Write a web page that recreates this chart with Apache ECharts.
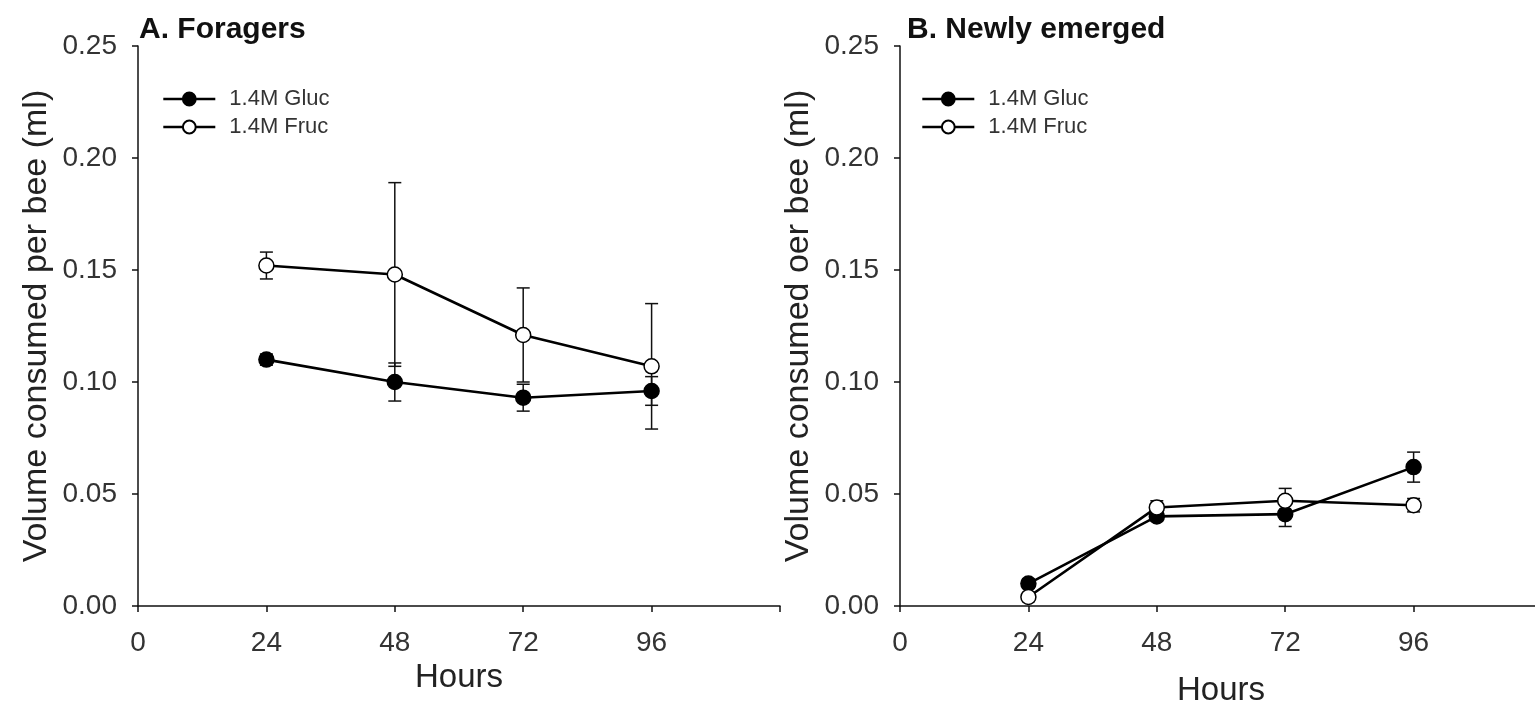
<!DOCTYPE html>
<html>
<head>
<meta charset="utf-8">
<script src="https://cdn.jsdelivr.net/npm/echarts@6/dist/echarts.min.js"></script>
<style>
  html, body { margin: 0; padding: 0; background: #fff; }
  #chart { width: 1535px; height: 703px; }
</style>
</head>
<body>
<div id="chart"></div>
<script>
// sampling times (h)
var hours = [24, 48, 72, 96];
var xTicks = [0, 24, 48, 72, 96];

// A. Foragers, mean and SE
var forGluc = [0.110, 0.100, 0.093, 0.096];
var forGlucErr = [0.0025, 0.0085, 0.006, 0.0064];
var forFruc = [0.152, 0.148, 0.121, 0.107];
var forFrucErr = [0.006, 0.041, 0.021, 0.028];

// B. Newly emerged, mean and SE
var newGluc = [0.010, 0.040, 0.041, 0.062];
var newGlucErr = [0.002, 0.002, 0.0055, 0.0067];
var newFruc = [0.004, 0.044, 0.047, 0.045];
var newFrucErr = [0.002, 0.003, 0.0055, 0.003];

var FONT = '"Liberation Sans", Arial, sans-serif';
var INK = '#111';

function pairs(ys) {
    return hours.map(function (h, i) { return [h, ys[i]]; });
}
function triples(ys, es) {
    return hours.map(function (h, i) { return [h, ys[i], es[i]]; });
}

// vertical whisker with caps
function errorBars(params, api) {
    var x = api.value(0), y = api.value(1), e = api.value(2);
    var hi = api.coord([x, y + e]);
    var lo = api.coord([x, y - e]);
    var w = 6.5;
    var st = { stroke: INK, lineWidth: 1.5 };
    return {
        type: 'group',
        children: [
            { type: 'line', shape: { x1: hi[0], y1: hi[1], x2: lo[0], y2: lo[1] }, style: st },
            { type: 'line', shape: { x1: hi[0] - w, y1: hi[1], x2: hi[0] + w, y2: hi[1] }, style: st },
            { type: 'line', shape: { x1: lo[0] - w, y1: lo[1], x2: lo[0] + w, y2: lo[1] }, style: st }
        ]
    };
}

function xAxis(idx, gap) {
    return {
        type: 'value', gridIndex: idx, min: 0, max: 120, interval: 24,
        name: 'Hours', nameLocation: 'middle', nameGap: gap,
        nameTextStyle: { fontFamily: FONT, fontSize: 33, color: '#222' },
        axisLine: { lineStyle: { color: INK, width: 1.5 } },
        axisTick: { length: 6, lineStyle: { color: INK, width: 1.5 } },
        axisLabel: {
            margin: 23, fontFamily: FONT, fontSize: 28, color: '#333',
            formatter: function (v) { return xTicks.indexOf(v) >= 0 ? String(v) : ''; }
        },
        splitLine: { show: false }
    };
}

function yAxis(idx, name) {
    return {
        type: 'value', gridIndex: idx, min: 0, max: 0.25, interval: 0.05,
        name: name, nameLocation: 'middle', nameGap: 84,
        nameTextStyle: { fontFamily: FONT, fontSize: 34, color: '#222' },
        axisLine: { show: true, lineStyle: { color: INK, width: 1.5 } },
        axisTick: { show: true, length: 6, lineStyle: { color: INK, width: 1.5 } },
        axisLabel: {
            margin: 21, fontFamily: FONT, fontSize: 28, color: '#333',
            formatter: function (v) { return v.toFixed(2); }
        },
        splitLine: { show: false }
    };
}

function lineSeries(name, idx, ys, filled) {
    return {
        name: name, type: 'line', xAxisIndex: idx, yAxisIndex: idx,
        data: pairs(ys), z: 3,
        symbol: 'circle', symbolSize: 15,
        lineStyle: { color: '#000', width: 2.6 },
        itemStyle: { color: filled ? '#000' : '#fff', borderColor: '#000', borderWidth: 1.5 }
    };
}

function errSeries(idx, ys, es) {
    return {
        type: 'custom', xAxisIndex: idx, yAxisIndex: idx, z: 2,
        data: triples(ys, es), renderItem: errorBars, silent: true
    };
}

function legend(left) {
    return {
        orient: 'vertical', left: left, top: 88, padding: 0, selectedMode: false,
        itemWidth: 52, itemHeight: 16, itemGap: 6,
        data: ['1.4M Gluc', '1.4M Fruc'],
        lineStyle: { width: 2.6 },
        textStyle: { fontFamily: FONT, fontSize: 22, color: '#333', padding: [0, 0, 0, 9] }
    };
}

var chart = echarts.init(document.getElementById('chart'));
chart.setOption({
    animation: false,
    backgroundColor: '#fff',
    title: [
        { text: 'A. Foragers', left: 134, top: 10,
          textStyle: { fontFamily: FONT, fontSize: 30, fontWeight: 'bold', color: '#111' } },
        { text: 'B. Newly emerged', left: 902, top: 10,
          textStyle: { fontFamily: FONT, fontSize: 30, fontWeight: 'bold', color: '#111' } }
    ],
    legend: [legend(162), legend(921)],
    grid: [
        { left: 138, top: 46, width: 642, height: 560, outerBoundsMode: 'none' },
        { left: 900, top: 46, width: 642, height: 560, outerBoundsMode: 'none' }
    ],
    xAxis: [xAxis(0, 55), xAxis(1, 68)],
    yAxis: [yAxis(0, 'Volume consumed per bee (ml)'), yAxis(1, 'Volume consumed oer bee (ml)')],
    series: [
        errSeries(0, forGluc, forGlucErr),
        errSeries(0, forFruc, forFrucErr),
        lineSeries('1.4M Gluc', 0, forGluc, true),
        lineSeries('1.4M Fruc', 0, forFruc, false),
        errSeries(1, newGluc, newGlucErr),
        errSeries(1, newFruc, newFrucErr),
        lineSeries('1.4M Gluc', 1, newGluc, true),
        lineSeries('1.4M Fruc', 1, newFruc, false)
    ]
});
</script>
</body>
</html>
